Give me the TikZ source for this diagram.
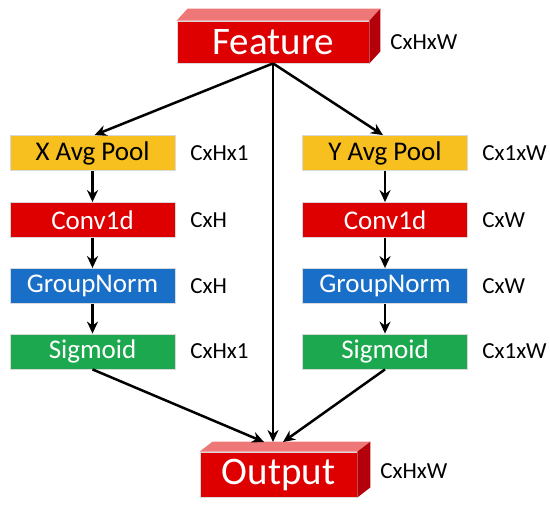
\documentclass[tikz,border=0pt]{standalone}
\usepackage{fontspec}
\setmainfont{Carlito}
\usetikzlibrary{arrows.meta}
\definecolor{boxred}{RGB}{222,0,0}
\definecolor{redtop}{RGB}{238,120,120}
\definecolor{redside}{RGB}{180,0,10}
\definecolor{boxyellow}{RGB}{247,192,30}
\definecolor{boxblue}{RGB}{25,110,200}
\definecolor{boxgreen}{RGB}{28,168,78}

\begin{document}
\begin{tikzpicture}[x=0.5pt,y=-0.5pt,
  blk/.style={minimum width=82.5pt,minimum height=17.5pt,inner sep=0pt,text=white,
    draw=black!15,line width=0.4pt,font=\fontsize{13.5}{13.5}\selectfont},
  cube/.style={blk,fill=boxred,font=\fontsize{19.5}{19.5}\selectfont},
  dim/.style={anchor=west,inner sep=0pt,font=\fontsize{11.5}{11.5}\selectfont},
  arr/.style={-{Stealth[length=6pt,width=5.5pt]},line width=1.25pt}]
  \useasboundingbox (0,0) rectangle (550,508);
  % input and output blocks
  \node[cube,minimum width=96pt,minimum height=21pt] (feat) at (273,42) {Feature};
  \node[cube,minimum width=78.5pt,minimum height=22.5pt] (out) at (278.5,474.5) {Output};
  \foreach \n/\dx/\dy in {feat/11/-12,out/13/-10}{
    \fill[redtop] (\n.north west) -- ++(\dx,\dy) -- ([shift={(\dx,\dy)}]\n.north east) -- (\n.north east) -- cycle;
    \fill[redside] (\n.north east) -- ++(\dx,\dy) -- ([shift={(\dx,\dy)}]\n.south east) -- (\n.south east) -- cycle;
  }
  \node[dim] (featdim) at (390,42) {CxHxW};
  \node[dim] (outdim) at (380,471) {CxHxW};
  \coordinate (outl) at (264,442);
  \coordinate (outm) at (273,442);
  \coordinate (outr) at (283,442);
  % the two branches
  \foreach \s/\x/\d/\a/\b/\c in {l/92.5/X/CxHx1/CxH/190,r/385/Y/Cx1xW/CxW/482}{
    \node[blk,fill=boxyellow,text=black] (pool\s) at (\x,153) {\d\ Avg Pool};
    \node[blk,fill=boxred] (conv\s) at (\x,220) {Conv1d};
    \node[blk,fill=boxblue] (norm\s) at (\x,286) {GroupNorm};
    \node[blk,fill=boxgreen] (sig\s) at (\x,351.5) {Sigmoid};
    \node[dim] (pooldim\s) at (\c,153) {\a};
    \node[dim] (convdim\s) at (\c,220) {\b};
    \node[dim] (normdim\s) at (\c,286) {\b};
    \node[dim] (sigdim\s) at (\c,351.5) {\a};
    \draw[arr] (pool\s) -- (conv\s);
    \draw[arr] (conv\s) -- (norm\s);
    \draw[arr] (norm\s) -- (sig\s);
  }
  \draw[arr] (feat.south) -- ([xshift=1pt]pooll.north);
  \draw[arr] (feat.south) -- ([xshift=-1pt]poolr.north);
  \draw[arr] (feat.south) -- (outm);
  \draw[arr] (sigl.south) -- (outl);
  \draw[arr] (sigr.south) -- (outr);
\end{tikzpicture}
\end{document}
